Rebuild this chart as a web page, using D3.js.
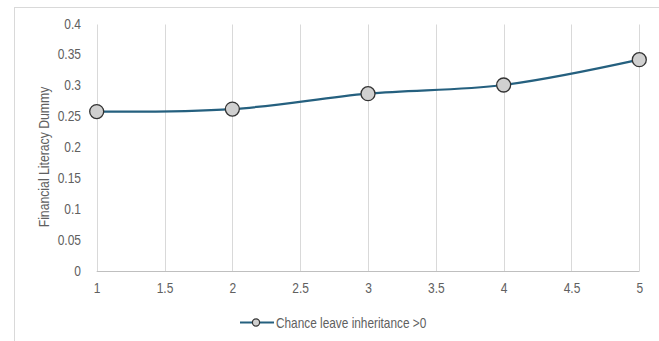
<!DOCTYPE html>
<html><head><meta charset="utf-8">
<script src="https://cdn.jsdelivr.net/npm/d3@7"></script>
<style>
html,body{margin:0;padding:0;background:#fff;}
svg{display:block;}
text{font-family:"Liberation Sans",Arial,sans-serif;}
</style></head>
<body><svg id="c" width="659" height="341"></svg>
<script>
const xValues = [1, 2, 3, 4, 5];
const seriesValues = [0.259, 0.263, 0.288, 0.302, 0.343];
const seriesName = "Chance leave inheritance >0";
const xTicks = [1, 1.5, 2, 2.5, 3, 3.5, 4, 4.5, 5];
const yTicks = [0, 0.05, 0.1, 0.15, 0.2, 0.25, 0.3, 0.35, 0.4];
const yTitle = "Financial Literacy Dummy";

const SX = 0.8;       // narrow-font emulation
const FS = "15px";
const TXT = "#606060";

const svg = d3.select("#c");
// outer chart frame
svg.append("rect").attr("x",14.5).attr("y",7.5).attr("width",700).attr("height",400)
  .attr("fill","#fff").attr("stroke","#d9d9d9").attr("stroke-width",1);

const x = d3.scaleLinear().domain([1,5]).range([96.7,639.3]);
const y = d3.scaleLinear().domain([0,0.4]).range([271.5,24.5]);

// vertical gridlines
svg.append("g").selectAll("line").data(xTicks).join("line")
  .attr("x1",d=>Math.round(x(d))+0.5).attr("x2",d=>Math.round(x(d))+0.5)
  .attr("y1",y(0.4)).attr("y2",y(0))
  .attr("stroke","#d9d9d9").attr("stroke-width",1);

// x axis line
svg.append("line").attr("x1",x(1)).attr("x2",x(5)).attr("y1",271.5).attr("y2",271.5)
  .attr("stroke","#bfbfbf").attr("stroke-width",1);

// x tick labels
const xAxis = d3.axisBottom(x).tickValues(xTicks).tickSize(0).tickPadding(0).tickFormat(d3.format("~g"));
const gx = svg.append("g").attr("transform",`translate(0,${y(0)})`).call(xAxis);
gx.select(".domain").remove();
gx.selectAll("text").attr("fill",TXT).style("font-size",FS)
  .attr("y",null).attr("dy",null)
  .attr("transform",`translate(0,21.5) scale(${SX},1)`);

// y tick labels
const yAxis = d3.axisLeft(y).tickValues(yTicks).tickSize(0).tickPadding(0).tickFormat(d3.format("~g"));
const gy = svg.append("g").attr("transform",`translate(81,0)`).call(yAxis);
gy.select(".domain").remove();
gy.selectAll("text").attr("fill",TXT).style("font-size",FS)
  .attr("x",null).attr("dy",null)
  .attr("transform",`translate(0,3.5) scale(${SX},1)`);

// y title
svg.append("text").attr("transform",`translate(48.5,157) rotate(-90) scale(${SX},1)`)
  .attr("text-anchor","middle").attr("fill",TXT).style("font-size","15.3px").text(yTitle);

// line
const line = d3.line().x((d,i)=>x(xValues[i])).y(d=>y(d)).curve(d3.curveCatmullRom.alpha(0.5));
svg.append("path").datum(seriesValues).attr("d",line).attr("fill","none")
  .attr("stroke","#25607f").attr("stroke-width",2.2);

// markers
svg.append("g").selectAll("circle").data(seriesValues).join("circle")
  .attr("cx",(d,i)=>x(xValues[i])).attr("cy",d=>y(d)).attr("r",7)
  .attr("fill","#d0d0d0").attr("stroke","#333").attr("stroke-width",1.3);

// legend
const lg = svg.append("g");
lg.append("line").attr("x1",240).attr("x2",274).attr("y1",322.5).attr("y2",322.5)
  .attr("stroke","#25607f").attr("stroke-width",2.2);
lg.append("circle").attr("cx",256).attr("cy",322.5).attr("r",3.6)
  .attr("fill","#d0d0d0").attr("stroke","#333").attr("stroke-width",1.2);
lg.append("text").attr("transform",`translate(276,327.5) scale(${SX},1)`).attr("fill",TXT)
  .style("font-size","14.8px").text(seriesName);
</script></body></html>
